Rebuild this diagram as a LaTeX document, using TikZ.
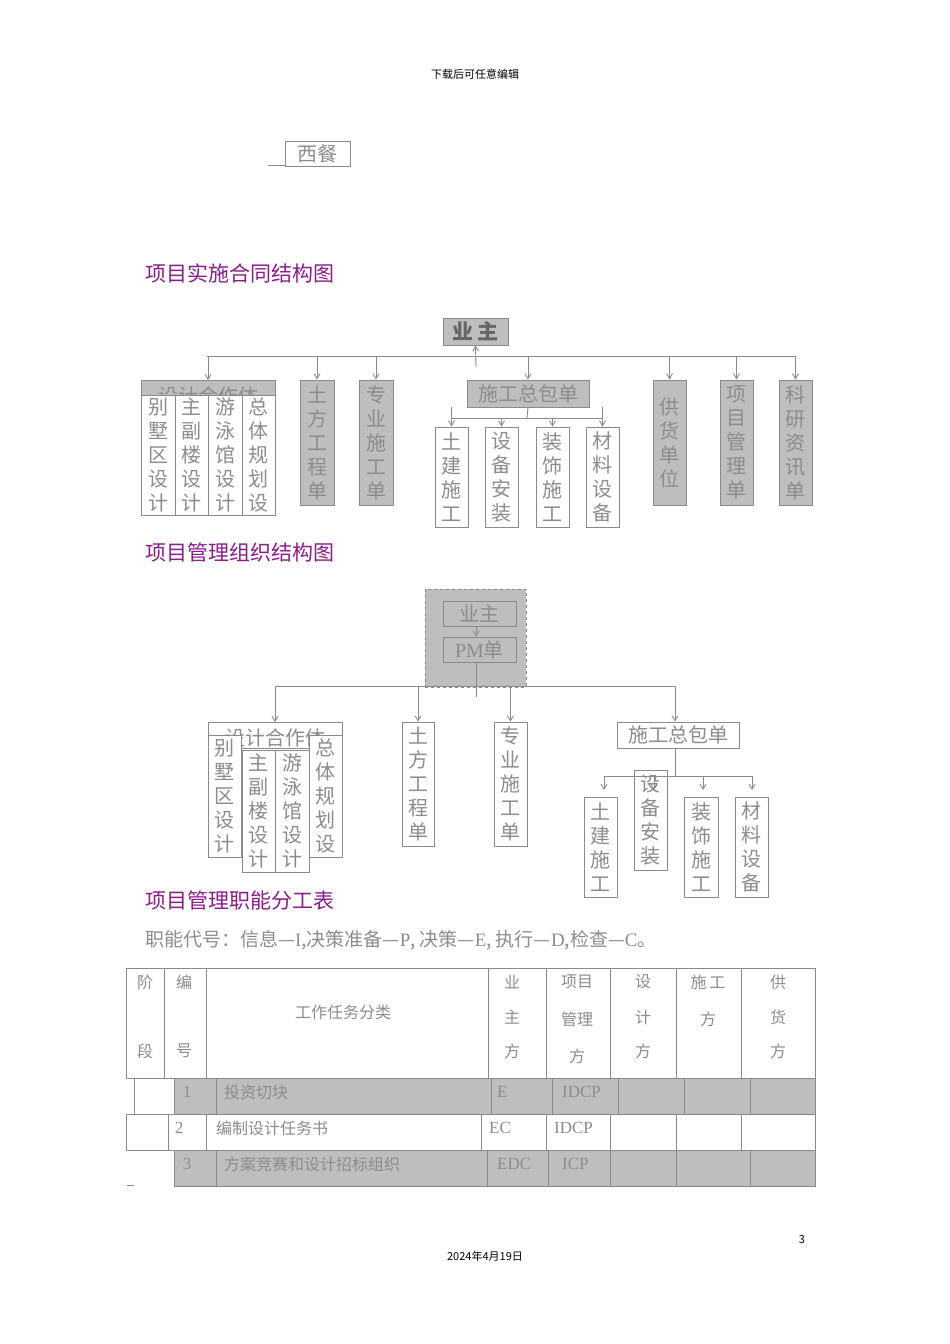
\documentclass[tikz,border=0pt]{standalone}
\usepackage{fontspec}
\setmainfont{Noto Sans CJK SC}
\newfontfamily\lat{Liberation Serif}
\usetikzlibrary{arrows.meta}
\definecolor{ln}{HTML}{8A8A8A}
\definecolor{tx}{HTML}{8C8C8C}
\definecolor{gf}{HTML}{BEBEBE}
\definecolor{pur}{HTML}{8B1C8B}
\tikzset{
 bx/.style={draw=ln,line width=0.9pt,inner sep=0pt,text=tx,font=\fontsize{20}{24}\selectfont,align=center},
 gbx/.style={bx,fill=gf},
 wbx/.style={bx,fill=white},
 arr/.style={draw=ln,line width=0.9pt,-{Straight Barb[length=5pt,width=6pt]}},
 ln/.style={draw=ln,line width=0.9pt},
 ttl/.style={anchor=west,text=pur,font=\fontsize{21}{24}\selectfont,inner sep=0pt},
 tt/.style={text=tx,font=\fontsize{16}{18}\selectfont,inner sep=0pt},
 tl/.style={tt,anchor=west},
}
\begin{document}
\begin{tikzpicture}[x=1pt,y=-1pt]
\useasboundingbox[fill=white] (0,0) rectangle (950,1344);
\node[font=\fontsize{11}{12}\selectfont] (hdr) at (475,74) {下载后可任意编辑};
% xican
\node[bx,minimum width=65,minimum height=25] (xc) at (317.5,153.5) {西餐};
\coordinate (xcl) at (268,165);
\draw[ln] (xcl) -- (xcl -| xc.west);
\node[ttl] (t1) at (145,273) {项目实施合同结构图};
% ---------- chart 1
\node[gbx,minimum width=65,minimum height=27,text=black!60,font=\fontsize{21}{24}\selectfont\bfseries] (yz) at (475.5,331.5) {业\,主};
\coordinate (b1) at (476,356);
\coordinate (up1) at (476,367);
\draw[ln] (207,356) -- (795,356);
\draw[arr] (up1) -- (yz.south);
% design consortium
\node[gbx,minimum width=134,minimum height=15,anchor=north] (sj) at (208,380) {};
\begin{scope}
\clip (141,380) rectangle (275,395);
\node[tx,font=\fontsize{20}{24}\selectfont,text=tx] (sjt) at (208,396) {设计合作体};
\end{scope}
\node[wbx,minimum width=34,minimum height=120] (c1) at (158,455) {别\\墅\\区\\设\\计};
\node[wbx,minimum width=33,minimum height=120] (c2) at (191.5,455) {主\\副\\楼\\设\\计};
\node[wbx,minimum width=34,minimum height=120] (c3) at (225,455) {游\\泳\\馆\\设\\计};
\node[wbx,minimum width=33,minimum height=120] (c4) at (258.5,455) {总\\体\\规\\划\\设};
\node[gbx,minimum width=34,minimum height=125] (tf) at (317,442.5) {土\\方\\工\\程\\单};
\node[gbx,minimum width=34,minimum height=125] (zy) at (376,442.5) {专\\业\\施\\工\\单};
\node[gbx,minimum width=122,minimum height=27] (zb) at (528,393.5) {施工总包单};
\node[gbx,minimum width=33,minimum height=125] (gh) at (669.5,442.5) {供\\货\\单\\位};
\node[gbx,minimum width=33,minimum height=125] (xm) at (736.5,442.5) {项\\目\\管\\理\\单};
\node[gbx,minimum width=33,minimum height=125] (ky) at (795.5,442.5) {科\\研\\资\\讯\\单};
\foreach \n in {sj,tf,zy,zb,gh,xm,ky} \draw[arr] (\n.north |- b1) -- (\n.north);
\node[wbx,minimum width=33,minimum height=100] (s1) at (451.5,477) {土\\建\\施\\工};
\node[wbx,minimum width=33,minimum height=100] (s2) at (501.5,477) {设\\备\\安\\装};
\node[wbx,minimum width=33,minimum height=100] (s3) at (552.5,477) {装\\饰\\施\\工};
\node[wbx,minimum width=33,minimum height=100] (s4) at (602.5,477) {材\\料\\设\\备};
\coordinate (b2) at (527,418);
\draw[ln] (zb.south) -- (b2);
\draw[ln] (s1.north |- zb.south) -- (s1.north |- b2) -- (s4.north |- b2) -- (s4.north |- zb.south);
\foreach \n in {s1,s2,s3,s4} \draw[arr] (\n.north |- b2) -- (\n.north);
% ---------- chart 2
\node[ttl] (t2) at (145,552) {项目管理组织结构图};
\node[draw=ln,dashed,fill=gf,line width=0.9pt,minimum width=101,minimum height=98,inner sep=0] (pmb) at (475.5,638) {};
\node[gbx,minimum width=73,minimum height=25] (yz2) at (479.5,613.5) {业主};
\node[gbx,minimum width=73,minimum height=25] (pm) at (479.5,649.5) {{\lat PM}单};
\coordinate (b3) at (476,686);
\coordinate (pe) at (476,697);
\draw[arr] (476,626) -- (pm.north -| pe);
\draw[ln] (pm.south -| pe) -- (pe);
\draw[ln] (275,686) -- (675,686);
\node[wbx,minimum width=134,minimum height=26,anchor=north] (sj2) at (275,722) {};
\node[tx,font=\fontsize{20}{24}\selectfont,text=tx] (sj2t) at (275,738) {设计合作体};
\node[wbx,minimum width=33,minimum height=122] (d1) at (224.5,796) {别\\墅\\区\\设\\计};
\node[wbx,minimum width=33,minimum height=122] (d4) at (325.5,796) {总\\体\\规\\划\\设};
\node[wbx,minimum width=33,minimum height=122] (d2) at (258.5,811) {主\\副\\楼\\设\\计};
\node[wbx,minimum width=34,minimum height=122] (d3) at (292,811) {游\\泳\\馆\\设\\计};
\node[wbx,minimum width=32,minimum height=124] (tf2) at (418,784) {土\\方\\工\\程\\单};
\node[wbx,minimum width=33,minimum height=124] (zy2) at (510.5,784) {专\\业\\施\\工\\单};
\node[wbx,minimum width=122,minimum height=26] (zb2) at (678,735) {施工总包单};
\coordinate (b4) at (675,776);
\draw[arr] (sj2.north |- b3) -- (sj2.north);
\draw[arr] (tf2.north |- b3) -- (tf2.north);
\draw[arr] (zy2.north |- b3) -- (zy2.north);
\draw[arr] (b4 |- b3) -- (b4 |- zb2.north);
\node[wbx,minimum width=33,minimum height=100] (e1) at (600.5,847) {土\\建\\施\\工};
\node[wbx,minimum width=33,minimum height=100] (e2) at (650.5,820) {设\\备\\安\\装};
\node[wbx,minimum width=34,minimum height=100] (e3) at (701,847) {装\\饰\\施\\工};
\node[wbx,minimum width=33,minimum height=100] (e4) at (751.5,847) {材\\料\\设\\备};
\draw[ln] (zb2.south -| b4) -- (b4);
\draw[ln] (604,776) -- (752,776);
\coordinate (q1) at (604,790);\coordinate (q2) at (654,790);\coordinate (q3) at (703,790);\coordinate (q4) at (752,790);
\foreach \q in {q1,q2,q3,q4} \draw[arr] (\q |- b4) -- (\q);
% ---------- table
\node[ttl] (t3) at (145,900) {项目管理职能分工表};
\node[tl,font=\fontsize{19}{22}\selectfont] (leg) at (145,940) {职能代号：信息—{\lat I},决策准备—{\lat P}, 决策—{\lat E}, 执行—{\lat D},检查—{\lat C}。};
\begin{scope}[ln]
\draw (126,968) rectangle (815,1078);
\foreach \x in {164,206,488,546,610,676,741} \draw (\x,968) -- (\x,1078);
\fill[gf] (174,1078) rectangle (815,1114);
\draw (174,1078) rectangle (815,1114);
\foreach \x in {216,491,552,618,684,750} \draw (\x,1078) -- (\x,1114);
\draw (134,1078) rectangle (174,1118);
\fill[white] (126,1114) rectangle (815,1150);
\draw (126,1114) rectangle (815,1150);
\foreach \x in {168,206,481,546,610,676,741} \draw (\x,1114) -- (\x,1150);
\fill[gf] (174,1150) rectangle (815,1186);
\draw (174,1150) rectangle (815,1186);
\foreach \x in {216,487,548,610,676,750} \draw (\x,1150) -- (\x,1186);
\draw (127,1185) -- (134,1185);
\end{scope}
\node[tt] (h1) at (145,982) {阶}; \node[tt] (h2) at (145,1051) {段};
\node[tt] (h3) at (184,982) {编}; \node[tt] (h4) at (184,1051) {号};
\node[tt] (h5) at (343,1012) {工作任务分类};
\node[tt] (h6) at (512,982) {业}; \node[tt] (h7) at (512,1017) {主}; \node[tt] (h8) at (512,1051) {方};
\node[tt] (h9) at (577,982) {项目}; \node[tt] (h10) at (577,1019) {管理}; \node[tt] (h11) at (577,1056) {方};
\node[tt] (h12) at (643,982) {设}; \node[tt] (h13) at (643,1017) {计}; \node[tt] (h14) at (643,1051) {方};
\node[tt] (h15) at (708,982) {施\,工}; \node[tt] (h16) at (708,1019) {方};
\node[tt] (h17) at (778,982) {供}; \node[tt] (h18) at (778,1017) {货}; \node[tt] (h19) at (778,1051) {方};
\node[tt,font=\lat\fontsize{17}{18}\selectfont] (r11) at (187,1092) {1};
\node[tl] (r12) at (224,1092) {投资切块};
\node[tl,font=\lat\fontsize{17}{18}\selectfont] (r13) at (497,1092) {E};
\node[tl,font=\lat\fontsize{17}{18}\selectfont] (r14) at (562,1092) {IDCP};
\node[tt,font=\lat\fontsize{17}{18}\selectfont] (r21) at (179,1128) {2};
\node[tl] (r22) at (216,1128) {编制设计任务书};
\node[tl,font=\lat\fontsize{17}{18}\selectfont] (r23) at (489,1128) {EC};
\node[tl,font=\lat\fontsize{17}{18}\selectfont] (r24) at (554,1128) {IDCP};
\node[tt,font=\lat\fontsize{17}{18}\selectfont] (r31) at (187,1164) {3};
\node[tl] (r32) at (224,1164) {方案竞赛和设计招标组织};
\node[tl,font=\lat\fontsize{17}{18}\selectfont] (r33) at (497,1164) {EDC};
\node[tl,font=\lat\fontsize{17}{18}\selectfont] (r34) at (562,1164) {ICP};
\node[font=\fontsize{11}{12}\selectfont] (pg) at (802,1240) {3};
\node[font=\fontsize{11}{12}\selectfont] (dt) at (485,1256) {2024年4月19日};
\end{tikzpicture}
\end{document}
